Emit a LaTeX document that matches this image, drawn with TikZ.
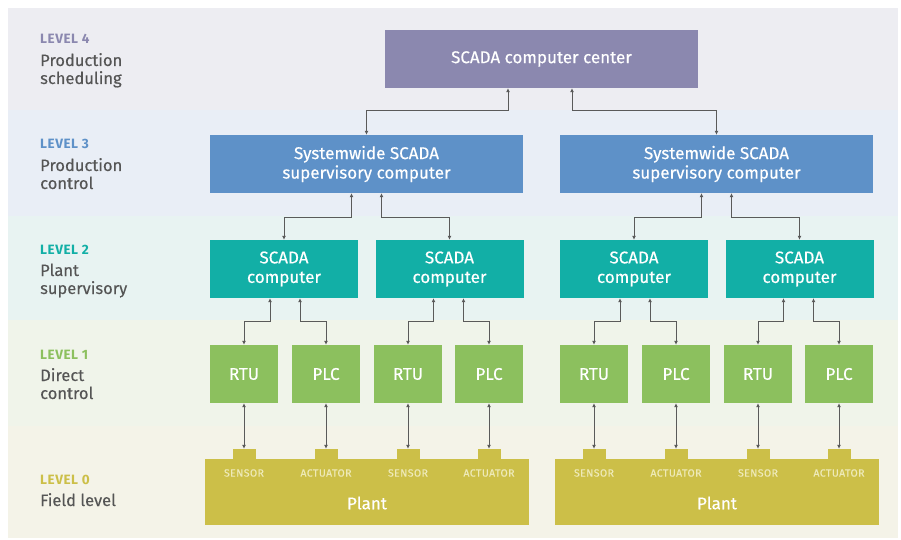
\documentclass[tikz,border=0pt]{standalone}
\usepackage{fontspec}
\setmainfont{Fira Sans}
\newfontfamily\boxfont[FakeBold=0.35]{Fira Sans}
\newfontfamily\capsfont[FakeBold=0.35,LetterSpace=4]{Fira Sans}
\newfontfamily\headfont[LetterSpace=4]{Fira Sans}
\usetikzlibrary{arrows.meta}

\definecolor{bandA}{HTML}{EDEDF2}
\definecolor{bandB}{HTML}{E9EEF6}
\definecolor{bandC}{HTML}{E8F3F2}
\definecolor{bandD}{HTML}{F0F4EA}
\definecolor{bandE}{HTML}{F4F3E8}
\definecolor{purp}{HTML}{8B88AF}
\definecolor{blu}{HTML}{5E91C8}
\definecolor{teal}{HTML}{12AFA6}
\definecolor{grn}{HTML}{8CC05E}
\definecolor{olv}{HTML}{CCBF48}
\definecolor{olvtext}{HTML}{EEEAB8}
\definecolor{txtgray}{HTML}{555555}
\definecolor{linegray}{HTML}{5A5A5A}

\begin{document}
\begin{tikzpicture}[x=1pt,y=-1pt,
  box/.style={rectangle, inner sep=0pt, text=white, align=center,
    font=\boxfont\fontsize{17}{19.5}\selectfont},
  topbox/.style={box, fill=purp, minimum width=313pt, minimum height=58pt},
  supbox/.style={box, fill=blu, minimum width=313pt, minimum height=58pt},
  plantbox/.style={box, fill=teal, minimum width=148pt, minimum height=58pt},
  ctrlbox/.style={box, fill=grn, minimum width=68pt, minimum height=58pt},
  fieldbox/.style={rectangle, inner sep=0pt, fill=olv, minimum width=324pt, minimum height=66pt},
  tab/.style={rectangle, inner sep=0pt, fill=olv, minimum width=23pt, minimum height=10pt},
  devlabel/.style={text=olvtext, font=\capsfont\fontsize{10.5}{12}\selectfont, inner sep=0pt},
  plantlabel/.style={text=white, font=\boxfont\fontsize{17}{19}\selectfont, inner sep=0pt},
  levelhead/.style={anchor=base west, inner sep=0pt, font=\headfont\bfseries\fontsize{13.5}{15}\selectfont},
  leveltext/.style={anchor=base west, inner sep=0pt, text=txtgray, font=\boxfont\fontsize{16.5}{19}\selectfont},
  conn/.style={draw=linegray, line width=0.9pt, {Latex[length=4pt,width=4pt]}-{Latex[length=4pt,width=4pt]}}
]
\useasboundingbox (0,0) rectangle (901,540);

% level bands
\fill[bandA] (8,8) rectangle (898,110);
\fill[bandB] (8,110) rectangle (898,216);
\fill[bandC] (8,216) rectangle (898,320);
\fill[bandD] (8,320) rectangle (898,426);
\fill[bandE] (8,426) rectangle (898,538);

% level captions
\node[levelhead, text=purp] (h4) at (40,44) {LEVEL 4};
\node[leveltext] (h4a) at (40,66) {Production};
\node[leveltext] (h4b) at (40,84) {scheduling};
\node[levelhead, text=blu] (h3) at (40,149) {LEVEL 3};
\node[leveltext] (h3a) at (40,171) {Production};
\node[leveltext] (h3b) at (40,189) {control};
\node[levelhead, text=teal] (h2) at (40,254) {LEVEL 2};
\node[leveltext] (h2a) at (40,276) {Plant};
\node[leveltext] (h2b) at (40,294) {supervisory};
\node[levelhead, text=grn] (h1) at (40,359) {LEVEL 1};
\node[leveltext] (h1a) at (40,381) {Direct};
\node[leveltext] (h1b) at (40,399) {control};
\node[levelhead, text=olv] (h0) at (40,484) {LEVEL 0};
\node[leveltext] (h0a) at (40,506) {Field level};

% level 4
\node[topbox] (cc) at (541.5,59) {SCADA computer center};

% level 3
\node[supbox] (sa) at (366.5,164) {Systemwide SCADA\\supervisory computer};
\node[supbox] (sb) at (716.5,164) {Systemwide SCADA\\supervisory computer};

% level 2
\node[plantbox] (pa) at (284,269) {SCADA\\computer};
\node[plantbox] (pb) at (449.5,269) {SCADA\\computer};
\node[plantbox] (pc) at (634,269) {SCADA\\computer};
\node[plantbox] (pd) at (799.5,269) {SCADA\\computer};

% level 1
\node[ctrlbox] (r1) at (244,374) {RTU};
\node[ctrlbox] (c1) at (326,374) {PLC};
\node[ctrlbox] (r2) at (408,374) {RTU};
\node[ctrlbox] (c2) at (489,374) {PLC};
\node[ctrlbox] (r3) at (594,374) {RTU};
\node[ctrlbox] (c3) at (676,374) {PLC};
\node[ctrlbox] (r4) at (758,374) {RTU};
\node[ctrlbox] (c4) at (839,374) {PLC};

% level 0: plants with sensor/actuator ports
\node[fieldbox] (fa) at (367,492) {};
\node[fieldbox] (fb) at (717,492) {};
\foreach \n/\x in {r1/244,c1/326,r2/408,c2/489,r3/594,c3/676,r4/758,c4/839}{
  \node[tab] (t\n) at (\x,454) {};
}
\foreach \n/\x/\t in {r1/244/SENSOR,c1/326/ACTUATOR,r2/408/SENSOR,c2/489/ACTUATOR,
                      r3/594/SENSOR,c3/676/ACTUATOR,r4/758/SENSOR,c4/839/ACTUATOR}{
  \node[devlabel] (d\n) at (\x,473) {\t};
}
\node[plantlabel] (pla) at (367,503) {Plant};
\node[plantlabel] (plb) at (717,503) {Plant};

% connectors level 4 - level 3
\draw[conn] ([xshift=-33.5pt]cc.south) -- ++(0,22) -| (sa.north);
\draw[conn] ([xshift=30.5pt]cc.south) -- ++(0,22) -| (sb.north);

% connectors level 3 - level 2
\draw[conn] ([xshift=-15pt]sa.south) -- ++(0,24) -| (pa.north);
\draw[conn] ([xshift=15pt]sa.south) -- ++(0,24) -| (pb.north);
\draw[conn] ([xshift=-15pt]sb.south) -- ++(0,24) -| (pc.north);
\draw[conn] ([xshift=15pt]sb.south) -- ++(0,24) -| (pd.north);

% connectors level 2 - level 1
\draw[conn] ([xshift=-14pt]pa.south) -- ++(0,23) -| (r1.north);
\draw[conn] ([xshift=16pt]pa.south) -- ++(0,23) -| (c1.north);
\draw[conn] ([xshift=-16pt]pb.south) -- ++(0,23) -| (r2.north);
\draw[conn] ([xshift=14pt]pb.south) -- ++(0,23) -| (c2.north);
\draw[conn] ([xshift=-14pt]pc.south) -- ++(0,23) -| (r3.north);
\draw[conn] ([xshift=16pt]pc.south) -- ++(0,23) -| (c3.north);
\draw[conn] ([xshift=-16pt]pd.south) -- ++(0,23) -| (r4.north);
\draw[conn] ([xshift=14pt]pd.south) -- ++(0,23) -| (c4.north);

% connectors level 1 - level 0
\foreach \n in {r1,c1,r2,c2,r3,c3,r4,c4}{
  \draw[conn] (\n.south) -- (t\n.north);
}
\end{tikzpicture}
\end{document}
